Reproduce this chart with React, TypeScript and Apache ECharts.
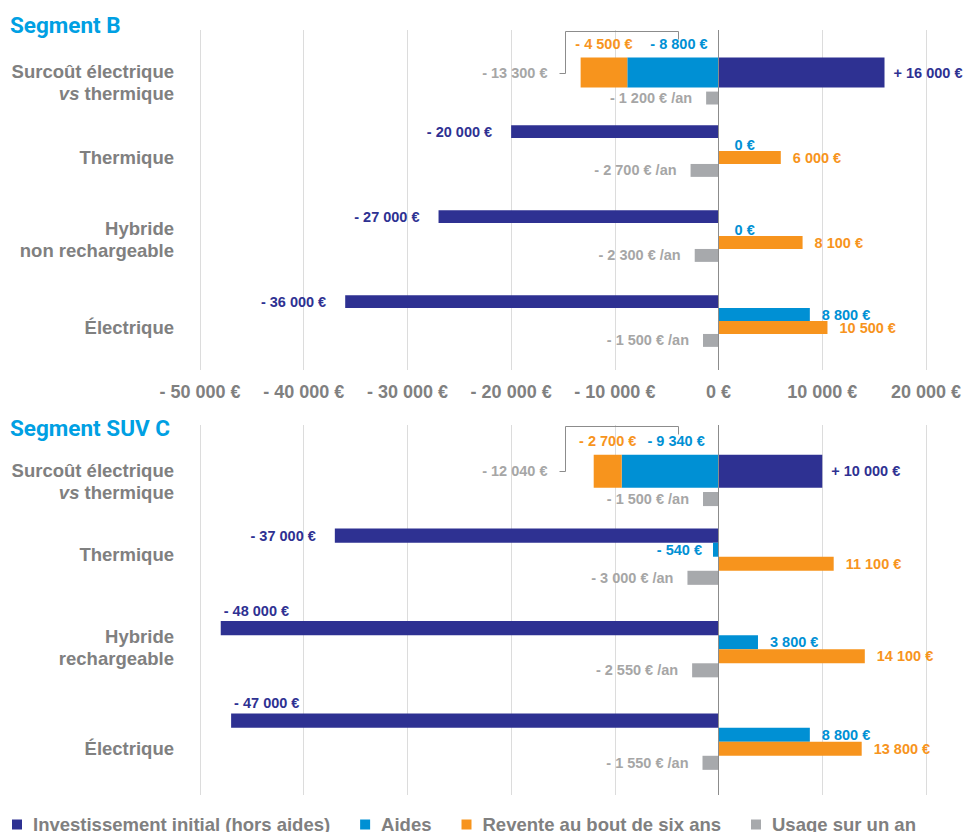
import React, { useEffect, useRef } from 'react';
import * as echarts from 'echarts';

// ---------- data ----------
const categoriesB = ['Surcoût électrique\nvs thermique', 'Thermique', 'Hybride\nnon rechargeable', 'Électrique'];
const categoriesC = ['Surcoût électrique\nvs thermique', 'Thermique', 'Hybride\nrechargeable', 'Électrique'];
const seriesNames = ['Investissement initial (hors aides)', 'Aides', 'Revente au bout de six ans', 'Usage sur un an'];

// Segment B
const investB = [16000, -20000, -27000, -36000];
const aidesB = [-8800, 0, 0, 8800];
const reventeB = [-4500, 6000, 8100, 10500];
const usageB = [-1200, -2700, -2300, -1500];
const totalB = -13300;

// Segment SUV C
const investC = [10000, -37000, -48000, -47000];
const aidesC = [-9340, -540, 3800, 8800];
const reventeC = [-2700, 11100, 14100, 13800];
const usageC = [-1500, -3000, -2550, -1550];
const totalC = -12040;

const xMin = -50000;
const xMax = 20000;
const xStep = 10000;

// ---------- styles ----------
const FONT = 'Liberation Sans, Arial, sans-serif';
const NAVY = '#2e3192';
const BLUE = '#0090d4';
const ORANGE = '#f7941d';
const GREY = '#a7a9ac';
const GREY_TXT = '#a6a6a6';
const LABEL_GREY = '#808080';

const fmtNum = (v: number) => Math.abs(v).toString().replace(/\B(?=(\d{3})+(?!\d))/g, ' ');
const money = (v: number, plus = false) => (v < 0 ? '- ' : plus && v > 0 ? '+ ' : '') + fmtNum(v) + ' €';

const valueLabel = (color: string) => ({
  show: true,
  color,
  fontFamily: FONT,
  fontWeight: 'bold' as const,
  fontSize: 14.5,
});

function catItems(cats: string[], shifts: number[]) {
  return cats.map((c, i) => {
    const s = shifts[i];
    const padding = s >= 0 ? [2 * s, 0, 0, 0] : [0, 0, -2 * s, 0];
    return { value: c, textStyle: { padding } };
  });
}

function panelSeries(g: number, invest: number[], aides: number[], revente: number[], usage: number[]) {
  const yMain = g * 2;
  const ySur = g * 2 + 1;
  const SLOT = '15.2%';
  const rows = (arr: number[], mk: (v: number) => any) =>
    arr.map((v, i) => (i === 0 ? '-' : mk(v)));
  const first = (arr: number[], mk: (v: number) => any) =>
    arr.map((v, i) => (i === 0 ? mk(v) : '-'));

  const main: any[] = [
    {
      name: seriesNames[0], type: 'bar', xAxisIndex: g, yAxisIndex: yMain, barWidth: SLOT, barGap: 0,
      itemStyle: { color: NAVY },
      data: rows(invest, (v) => ({
        value: v,
        label: v < -40000
          ? { position: [3, -3], align: 'left', verticalAlign: 'bottom' }
          : { position: v < 0 ? 'left' : 'right', distance: 19 },
      })),
      label: { ...valueLabel(NAVY), formatter: (p: any) => money(p.value) },
      markLine: {
        silent: true, symbol: 'none', label: { show: false },
        lineStyle: { color: '#8c8c8c', width: 1, type: 'solid' },
        data: [{ xAxis: 0 }],
      },
    },
    {
      name: seriesNames[1], type: 'bar', xAxisIndex: g, yAxisIndex: yMain, barWidth: SLOT, barGap: 0,
      itemStyle: { color: BLUE },
      data: rows(aides, (v) => ({
        value: v,
        label: v < 0 ? { position: 'left', distance: 11 } : { position: 'right', distance: v === 0 ? 16 : 12 },
      })),
      label: { ...valueLabel(BLUE), formatter: (p: any) => money(p.value) },
    },
    {
      name: seriesNames[2], type: 'bar', xAxisIndex: g, yAxisIndex: yMain, barWidth: SLOT, barGap: 0,
      itemStyle: { color: ORANGE },
      data: rows(revente, (v) => v),
      label: { ...valueLabel(ORANGE), position: 'right', distance: 12, formatter: (p: any) => money(p.value) },
    },
    {
      name: seriesNames[3], type: 'bar', xAxisIndex: g, yAxisIndex: yMain, barWidth: SLOT, barGap: 0,
      itemStyle: { color: GREY },
      data: rows(usage, (v) => v),
      label: { ...valueLabel(GREY_TXT), position: 'left', distance: 14, formatter: (p: any) => money(p.value) + ' /an' },
    },
    {
      name: '_pad' + g, type: 'bar', xAxisIndex: g, yAxisIndex: yMain, barWidth: SLOT, barGap: 0,
      data: invest.map(() => '-'),
    },
  ];

  const sur: any[] = [
    {
      name: '_pad_s' + g, type: 'bar', xAxisIndex: g, yAxisIndex: ySur, barWidth: '17.6%', barGap: '13.2%',
      data: invest.map(() => '-'),
    },
    {
      name: seriesNames[1], type: 'bar', xAxisIndex: g, yAxisIndex: ySur, stack: 'sur' + g, barWidth: '35.5%', barGap: '13.2%',
      itemStyle: { color: BLUE },
      data: first(aides, (v) => v),
      label: { ...valueLabel(BLUE), position: 'top', distance: 6, offset: [6, 0], formatter: (p: any) => money(p.value) },
    },
    {
      name: seriesNames[2], type: 'bar', xAxisIndex: g, yAxisIndex: ySur, stack: 'sur' + g, barWidth: '35.5%', barGap: '13.2%',
      itemStyle: { color: ORANGE },
      data: first(revente, (v) => v),
      label: { ...valueLabel(ORANGE), position: 'top', distance: 6, formatter: (p: any) => money(p.value) },
    },
    {
      name: seriesNames[0], type: 'bar', xAxisIndex: g, yAxisIndex: ySur, stack: 'sur' + g, barWidth: '35.5%', barGap: '13.2%',
      itemStyle: { color: NAVY },
      data: first(invest, (v) => v),
      label: { ...valueLabel(NAVY), position: 'right', distance: 9, formatter: (p: any) => money(p.value, true) },
    },
    {
      name: seriesNames[3], type: 'bar', xAxisIndex: g, yAxisIndex: ySur, barWidth: '15.2%', barGap: '13.2%',
      itemStyle: { color: GREY },
      data: first(usage, (v) => v),
      label: { ...valueLabel(GREY_TXT), position: 'left', distance: 14, formatter: (p: any) => money(p.value) + ' /an' },
    },
  ];
  return [...main, ...sur];
}

function buildOption(): any {
  const catLabel = {
    color: LABEL_GREY,
    fontFamily: FONT,
    fontWeight: 'bold',
    fontSize: 18.5,
    lineHeight: 22,
    margin: 26,
    align: 'right',
    formatter: (v: string) => v.replace('vs', '{i|vs}'),
    rich: {
      i: { fontStyle: 'italic', fontWeight: 'bold', fontSize: 18.5, lineHeight: 22, color: LABEL_GREY, fontFamily: FONT },
    },
  };
  const yCat = (g: number, cats: string[], shifts: number[]) => [
    {
      type: 'category', gridIndex: g, inverse: true, data: catItems(cats, shifts),
      axisLine: { show: false, onZero: false }, axisTick: { show: false }, axisLabel: catLabel,
    },
    {
      type: 'category', gridIndex: g, inverse: true, data: cats, show: false,
      axisLine: { show: false, onZero: false },
    },
  ];
  const xAx = (g: number) => ({
    type: 'value', gridIndex: g, min: xMin, max: xMax, interval: xStep,
    axisLine: { show: false }, axisTick: { show: false },
    splitLine: { show: true, lineStyle: { color: '#dcdcdc', width: 1 } },
    axisLabel: {
      show: g === 0, formatter: (v: number) => money(v), color: LABEL_GREY, fontFamily: FONT,
      fontWeight: 'bold', fontSize: 18, margin: 13,
    },
  });

  const titleStyle = { fontFamily: 'Roboto, sans-serif', fontWeight: 'bold', fontSize: 22.5, color: '#00a0e3' };
  return {
    animation: false,
    backgroundColor: '#ffffff',
    title: [
      { text: 'Segment B', left: 5, top: 8, padding: 5, textStyle: titleStyle },
      { text: 'Segment SUV C', left: 5, top: 411, padding: 5, textStyle: titleStyle },
    ],
    legend: {
      data: seriesNames,
      left: 7,
      top: 810,
      icon: 'rect',
      itemWidth: 10,
      itemHeight: 10,
      itemGap: 30,
      textStyle: { fontFamily: FONT, fontWeight: 'bold', fontSize: 18.5, color: LABEL_GREY, padding: [0, 0, 0, 6] },
    },
    grid: [
      { left: 200, right: 40, top: 30, height: 340 },
      { left: 200, right: 40, top: 425, height: 370 },
    ],
    xAxis: [xAx(0), xAx(1)],
    yAxis: [...yCat(0, categoriesB, [10, 0, -3, 0]), ...yCat(1, categoriesC, [10, -9, -9, 0])],
    series: [
      ...panelSeries(0, investB, aidesB, reventeB, usageB),
      ...panelSeries(1, investC, aidesC, reventeC, usageC),
    ],
  };
}

function bracketGraphics(chart: any) {
  const totals = [totalB, totalC];
  const els: any[] = [];
  totals.forEach((tot, g) => {
    const px = (v: number) => chart.convertToPixel({ xAxisIndex: g }, v);
    const c0 = chart.convertToPixel({ yAxisIndex: g * 2 }, 0);
    const c1 = chart.convertToPixel({ yAxisIndex: g * 2 }, 1);
    const band = c1 - c0;
    const top = c0 - band / 2 + 1;
    const xL = Math.round(px(-14800)) + 0.5;
    const xR = Math.round(px(-3900)) + 0.5;
    const yc = Math.round(c0) + 0.5;
    const yt = Math.round(top) + 0.5;
    els.push({
      type: 'polyline', silent: true,
      shape: { points: [[xL - 6, yc], [xL, yc], [xL, yt], [xR, yt], [xR, yt + 8]] },
      style: { stroke: '#8c8c8c', lineWidth: 1, fill: null },
    });
    els.push({
      type: 'text', silent: true, x: xL - 18, y: c0,
      style: {
        text: money(tot), fill: GREY_TXT, fontFamily: FONT, fontWeight: 'bold', fontSize: 14.5,
        align: 'right', verticalAlign: 'middle', textAlign: 'right', textVerticalAlign: 'middle',
      },
    });
  });
  return els;
}

export default function App() {
  const ref = useRef<HTMLDivElement>(null);
  useEffect(() => {
    if (!ref.current) return;
    const chart = echarts.init(ref.current, undefined, { renderer: 'svg' });
    chart.setOption(buildOption());
    chart.setOption({ graphic: { elements: bracketGraphics(chart) } });
    return () => chart.dispose();
  }, []);
  return <div ref={ref} style={{ position: 'absolute', left: 0, top: 0, width: 966, height: 832 }} />;
}
